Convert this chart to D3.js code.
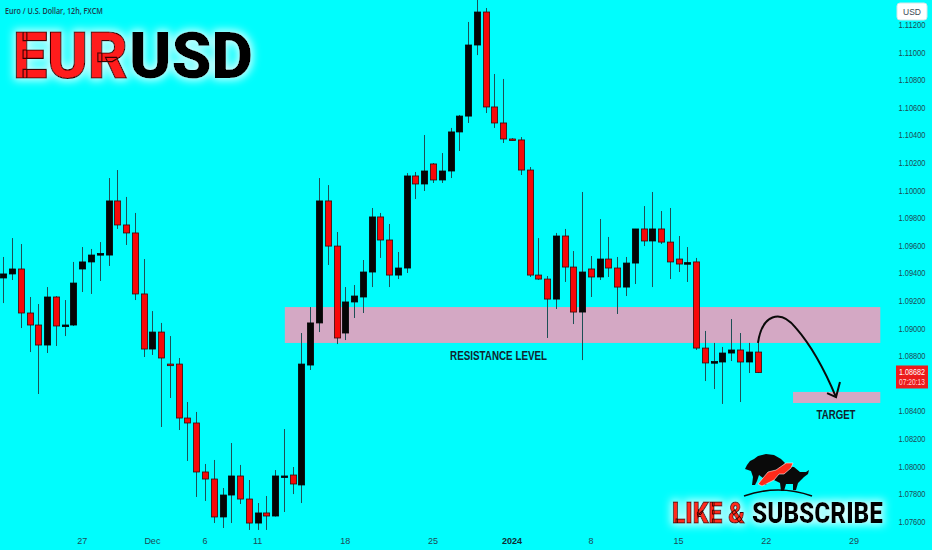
<!DOCTYPE html>
<html>
<head>
<meta charset="utf-8">
<script src="https://cdn.jsdelivr.net/npm/d3@7"></script>
<style>
  html, body { margin: 0; padding: 0; background: #00fdfd; }
  svg { display: block; }
</style>
</head>
<body>
<svg id="chart" width="932" height="550"></svg>
<script>
// ---- DATA (12h candles, EUR/USD, FXCM) ----
const candleIndex = d3.range(87);
const opens = [
  1.09367,1.09396,1.09432,1.09113,1.09026,1.08881,1.09229,1.09019,1.09026,1.09432,
  1.09483,1.09541,1.09533,1.09925,1.09751,1.09693,1.09251,1.08852,1.08975,1.08743,
  1.08743,1.08352,1.08316,1.07961,1.07910,1.07635,1.07794,1.07932,1.07765,1.07591,
  1.07664,1.07642,1.07925,1.07939,1.07867,1.08736,1.09041,1.09925,1.09598,1.08968,
  1.09193,1.09229,1.09410,1.09809,1.09642,1.09388,1.09439,1.10106,1.10048,1.10193,
  1.10077,1.10142,1.10425,1.10540,1.11055,1.11294,1.10606,1.10490,1.10374,1.10367,
  1.10149,1.09388,1.09359,1.09214,1.09671,1.09446,1.09120,1.09432,1.09374,1.09504,
  1.09439,1.09301,1.09475,1.09722,1.09635,1.09722,1.09627,1.09504,1.09475,1.09483,
  1.08859,1.08758,1.08758,1.08823,1.08845,1.08758,1.08830
];
const highs = [
  1.09519,1.09656,1.09613,1.09229,1.09178,1.09301,1.09236,1.09207,1.09483,1.09591,
  1.09577,1.09627,1.10091,1.10149,1.09954,1.09838,1.09504,1.09127,1.09041,1.08946,
  1.08787,1.08468,1.08396,1.08019,1.08048,1.07845,1.08171,1.08012,1.07903,1.07736,
  1.07787,1.07975,1.08272,1.07997,1.08968,1.09156,1.10091,1.10040,1.09700,1.09301,
  1.09316,1.09497,1.09874,1.09838,1.09758,1.09555,1.10127,1.10135,1.10403,1.10200,
  1.10272,1.10454,1.10548,1.11222,1.11381,1.11323,1.10845,1.10809,1.10380,1.10388,
  1.10171,1.09656,1.09381,1.09693,1.09722,1.09562,1.09990,1.09526,1.09794,1.09664,
  1.09519,1.09519,1.09722,1.09888,1.09990,1.09852,1.09874,1.09671,1.09591,1.09512,
  1.08983,1.08896,1.08867,1.09069,1.08968,1.08896,1.08932
];
const lows = [
  1.09185,1.09352,1.09004,1.08830,1.08526,1.08823,1.08874,1.08946,1.09019,1.09265,
  1.09251,1.09345,1.09454,1.09722,1.09606,1.09207,1.08794,1.08809,1.08287,1.08497,
  1.08265,1.08041,1.07780,1.07751,1.07591,1.07555,1.07591,1.07729,1.07541,1.07541,
  1.07541,1.07638,1.07671,1.07801,1.07736,1.08700,1.08975,1.09461,1.08888,1.08917,
  1.09077,1.09113,1.09301,1.09512,1.09301,1.09359,1.09403,1.09939,1.09997,1.10055,
  1.10055,1.10091,1.10287,1.10490,1.10982,1.10562,1.10454,1.10345,1.10362,1.10113,
  1.09374,1.09352,1.08932,1.09142,1.09338,1.09033,1.08772,1.09229,1.09352,1.09374,
  1.09106,1.09236,1.09323,1.09598,1.09301,1.09613,1.09359,1.09410,1.09338,1.08845,
  1.08620,1.08562,1.08454,1.08765,1.08468,1.08678,1.08678
];
const closes = [
  1.09396,1.09432,1.09113,1.09026,1.08881,1.09229,1.09019,1.09026,1.09330,1.09483,
  1.09533,1.09544,1.09925,1.09751,1.09693,1.09251,1.08852,1.08975,1.08787,1.08740,
  1.08352,1.08316,1.07961,1.07910,1.07635,1.07794,1.07932,1.07765,1.07591,1.07664,
  1.07642,1.07932,1.07932,1.07874,1.08743,1.09041,1.09925,1.09598,1.08932,1.09193,
  1.09236,1.09410,1.09809,1.09642,1.09388,1.09439,1.10106,1.10048,1.10142,1.10077,
  1.10142,1.10425,1.10540,1.11055,1.11294,1.10606,1.10490,1.10374,1.10367,1.10149,
  1.09388,1.09359,1.09214,1.09671,1.09446,1.09120,1.09410,1.09374,1.09504,1.09439,
  1.09301,1.09475,1.09722,1.09635,1.09722,1.09627,1.09483,1.09468,1.09478,1.08859,
  1.08751,1.08761,1.08823,1.08845,1.08758,1.08830,1.08682
];

// time axis labels (candle index -> label)
const timeTickIndex  = [9, 17, 23, 29, 39, 49, 58, 67, 77, 87, 97];
const timeTickLabels = ["27", "Dec", "6", "11", "18", "25", "2024", "8", "15", "22", "29"];

// price axis ticks
const priceTicks = d3.range(1.076, 1.1121, 0.002);

// annotations (candle index / price)
const resistanceZone = { i0: 32.1, i1: 100, top: 1.09156, bottom: 1.08896 };
const targetZone     = { i0: 90.05, i1: 100, top: 1.08541, bottom: 1.08461 };
const arrowCurve = [ // cubic bezier anchor / control points
  [86.05, 1.08896], [86.51, 1.09099], [88.56, 1.09149], [90.39, 1.09004],
  [92.38, 1.08859], [94.04, 1.08642], [94.95, 1.08504]
];
const arrowHead = [[93.93, 1.08533], [94.95, 1.08504], [95.40, 1.08613]];
const lastPrice = 1.08682;
const countdown = "07:20:13";

// ---- DRAWING ----
const svg = d3.select("#chart");
const W = 932, H = 550;

const x = d3.scaleLinear().domain([0, 97]).range([3.3, 854]);
const y = d3.scaleLinear().domain([1.076, 1.112]).range([521.8, 25]);

// squeeze a text horizontally (around its anchor x) to a target width
function fit(sel, width) {
  const len = sel.node().getComputedTextLength();
  const ax = +sel.attr("x");
  if (len > 0) {
    const s = width / len;
    sel.attr("transform", `translate(${ax},0) scale(${s},1) translate(${-ax},0)`);
  }
  return sel;
}

svg.append("rect").attr("width", W).attr("height", H).attr("fill", "#00fdfd");

const defs = svg.append("defs");
const glow = defs.append("filter").attr("id", "glow")
  .attr("x", "-20%").attr("y", "-30%").attr("width", "140%").attr("height", "160%");
glow.append("feMorphology").attr("in", "SourceAlpha").attr("operator", "dilate").attr("radius", 2).attr("result", "dil");
glow.append("feGaussianBlur").attr("in", "dil").attr("stdDeviation", 4).attr("result", "blur");
glow.append("feFlood").attr("flood-color", "#d8ffff").attr("flood-opacity", 0.95).attr("result", "col");
glow.append("feComposite").attr("in", "col").attr("in2", "blur").attr("operator", "in").attr("result", "halo");
const gm = glow.append("feMerge");
gm.append("feMergeNode").attr("in", "halo");
gm.append("feMergeNode").attr("in", "SourceGraphic");

const clip = defs.append("clipPath").attr("id", "plotclip");
clip.append("rect").attr("x", 0).attr("y", 0).attr("width", 889).attr("height", 532);

// zones
const zones = svg.append("g");
[resistanceZone, targetZone].forEach(z => {
  zones.append("rect")
    .attr("x", x(z.i0)).attr("width", x(z.i1) - x(z.i0))
    .attr("y", y(z.top)).attr("height", y(z.bottom) - y(z.top))
    .attr("fill", "#d4a8c4");
});

// candles
const candles = candleIndex.map(i => ({
  i, o: opens[i], h: highs[i], l: lows[i], c: closes[i]
}));
const bw = 6.2;
const cg = svg.append("g").attr("clip-path", "url(#plotclip)");
cg.selectAll("line.wick").data(candles).join("line")
  .attr("class", "wick")
  .attr("x1", d => Math.round(x(d.i)) + 0.5).attr("x2", d => Math.round(x(d.i)) + 0.5)
  .attr("y1", d => y(d.h)).attr("y2", d => y(d.l))
  .attr("stroke", "#1d4f55").attr("stroke-width", 1);
cg.selectAll("rect.body").data(candles).join("rect")
  .attr("class", "body")
  .attr("x", d => Math.round(x(d.i)) + 0.5 - bw / 2)
  .attr("width", bw)
  .attr("y", d => y(Math.max(d.o, d.c)))
  .attr("height", d => Math.max(1.6, Math.abs(y(d.o) - y(d.c))))
  .attr("fill", d => d.c >= d.o ? "#050505" : "#f80808")
  .attr("stroke", d => d.c >= d.o ? "#050505" : "#3a0a0a")
  .attr("stroke-width", 0.8);

// zone labels
fit(svg.append("text")
  .attr("x", (x(resistanceZone.i0) + x(resistanceZone.i1)) / 2 - 84)
  .attr("y", y(resistanceZone.bottom) + 17)
  .attr("text-anchor", "middle")
  .attr("font-family", "'Liberation Sans', Arial, sans-serif")
  .attr("font-weight", 600).attr("font-size", 12.5)
  .attr("fill", "#10242e").text("RESISTANCE LEVEL"), 97);
fit(svg.append("text")
  .attr("x", x(targetZone.i0) + 43)
  .attr("y", y(targetZone.bottom) + 16)
  .attr("text-anchor", "middle")
  .attr("font-family", "'Liberation Sans', Arial, sans-serif")
  .attr("font-weight", 600).attr("font-size", 12)
  .attr("fill", "#10242e").text("TARGET"), 39);

// arrow
const P = arrowCurve.map(p => [x(p[0]), y(p[1])]);
const pathD = `M${P[0]}C${P[1]} ${P[2]} ${P[3]}C${P[4]} ${P[5]} ${P[6]}`;
svg.append("path").attr("d", pathD).attr("fill", "none")
  .attr("stroke", "#0a0a0a").attr("stroke-width", 2);
svg.append("path").attr("d", d3.line()(arrowHead.map(p => [x(p[0]), y(p[1])])))
  .attr("fill", "none").attr("stroke", "#0a0a0a").attr("stroke-width", 2)
  .attr("stroke-linejoin", "miter");

// price axis
const ax = svg.append("g");
ax.selectAll("text.pt").data(priceTicks).join("text")
  .attr("class", "pt")
  .attr("x", 912).attr("y", d => y(d) + 3)
  .attr("text-anchor", "middle")
  .attr("font-family", "'Liberation Sans', Arial, sans-serif")
  .attr("font-size", 9)
  .attr("fill", "#1f4a55")
  .text(d => d3.format(".5f")(d))
  .each(function () { fit(d3.select(this), 27); });

// USD box
svg.append("rect").attr("x", 897).attr("y", 3).attr("width", 30).attr("height", 17)
  .attr("rx", 3).attr("fill", "#ffffff").attr("stroke", "#cfe8ea");
svg.append("text").attr("x", 912).attr("y", 15).attr("text-anchor", "middle")
  .attr("font-family", "'Liberation Sans', Arial, sans-serif").attr("font-size", 8.5)
  .attr("fill", "#3a4a55").text("USD");

// last price label
const ly = y(lastPrice);
svg.append("rect").attr("x", 896).attr("y", ly - 7).attr("width", 32).attr("height", 23)
  .attr("fill", "#ec1c1c");
fit(svg.append("text").attr("x", 912).attr("y", ly + 3).attr("text-anchor", "middle")
  .attr("font-family", "'Liberation Sans', Arial, sans-serif").attr("font-size", 8.5)
  .attr("fill", "#ffffff").text(d3.format(".5f")(lastPrice)), 26);
fit(svg.append("text").attr("x", 912).attr("y", ly + 13).attr("text-anchor", "middle")
  .attr("font-family", "'Liberation Sans', Arial, sans-serif").attr("font-size", 8.5)
  .attr("fill", "#ffd6d6").text(countdown), 26);

// time axis
svg.append("g").selectAll("text").data(timeTickIndex).join("text")
  .attr("x", d => x(d)).attr("y", 544)
  .attr("text-anchor", "middle")
  .attr("font-family", "'Liberation Sans', Arial, sans-serif")
  .attr("font-size", 9)
  .attr("font-weight", (d, k) => timeTickLabels[k] === "2024" ? 700 : 400)
  .attr("fill", (d, k) => timeTickLabels[k] === "2024" ? "#102a33" : "#1f4a55")
  .text((d, k) => timeTickLabels[k]);

// subtitle
fit(svg.append("text").attr("x", 5).attr("y", 14)
  .attr("font-family", "'Open Sans', 'Liberation Sans', sans-serif")
  .attr("font-size", 9.5).attr("font-weight", 600)
  .attr("fill", "#1d3a4c").text("Euro / U.S. Dollar, 12h, FXCM"), 98);

// big title
const title = svg.append("g").attr("filter", "url(#glow)");
fit(title.append("text").attr("x", 13).attr("y", 78)
  .attr("font-family", "Roboto, 'Liberation Sans', Arial, sans-serif")
  .attr("font-weight", 900).attr("font-size", 64)
  .attr("fill", "#ff1a1a").attr("stroke", "#3a0000").attr("stroke-width", 1.2)
  .text("EUR"), 115);
fit(title.append("text").attr("x", 129).attr("y", 78)
  .attr("font-family", "Roboto, 'Liberation Sans', Arial, sans-serif")
  .attr("font-weight", 900).attr("font-size", 64)
  .attr("fill", "#050505")
  .text("USD"), 124);

// like & subscribe
const ls = svg.append("g").attr("filter", "url(#glow)");
fit(ls.append("text").attr("x", 672).attr("y", 523)
  .attr("font-family", "Roboto, 'Liberation Sans', Arial, sans-serif")
  .attr("font-weight", 900).attr("font-size", 29)
  .attr("fill", "#ff2a1a").attr("stroke", "#3a0000").attr("stroke-width", 1)
  .text("LIKE &"), 73);
fit(ls.append("text").attr("x", 752).attr("y", 523)
  .attr("font-family", "Roboto, 'Liberation Sans', Arial, sans-serif")
  .attr("font-weight", 900).attr("font-size", 29)
  .attr("fill", "#050505")
  .text("SUBSCRIBE"), 131);

// bull & bear logo
const logo = svg.append("g").attr("transform", "translate(738,450)");
logo.append("path") // bull (behind)
  .attr("d", "M33,20 L44,16 L56,17 L62,22 L68,22 L71,20 L70,24 L66,27 L63,30 L60,33 L58,40 L55,40 L55,34 L48,34 L46,41 L43,41 L42,33 L36,30 Z")
  .attr("fill", "#0a0a0a");
logo.append("path") // bear
  .attr("d", "M9,15 L12,11 L16,9 L20,6 L28,4 L36,5 L43,9 L47,13 L44,17 L38,19 L33,22 L30,30 L28,35 L25,35 L25,28 L21,25 L19,31 L17,35 L14,35 L15,27 L13,21 L10,20 L7,19 Z")
  .attr("fill", "#0a0a0a");
logo.append("path") // red arrow
  .attr("d", "M20,34 L30,22 L38,20 L48,13 L55,13 L53,18 L46,24 L41,24 L36,30 L24,36 Z")
  .attr("fill", "#ff2a1a").attr("stroke", "#fff0f0").attr("stroke-width", 0.6);
logo.append("path") // ground arc
  .attr("d", "M6,46 Q40,34 74,46")
  .attr("fill", "none").attr("stroke", "#0a0a0a").attr("stroke-width", 1.6);
</script>
</body>
</html>
